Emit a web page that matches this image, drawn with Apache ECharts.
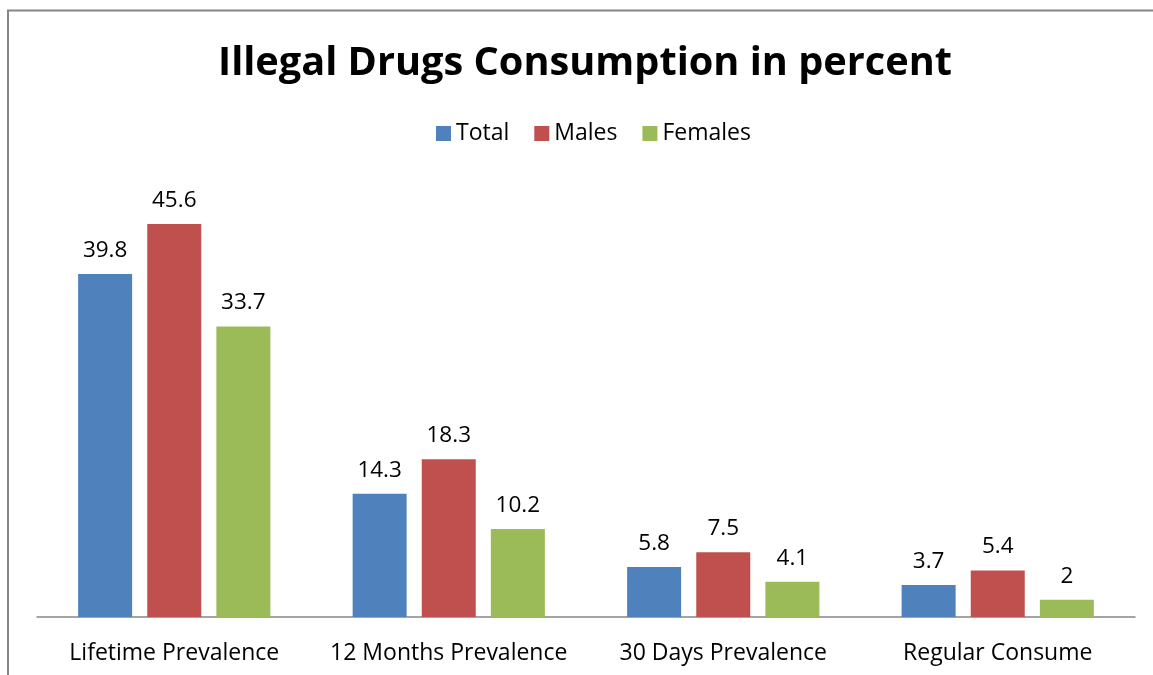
<!DOCTYPE html>
<html><head><meta charset="utf-8">
<script src="https://cdn.jsdelivr.net/npm/echarts@6/dist/echarts.min.js"></script>
<style>html,body{margin:0;padding:0;background:#fff}#c{width:1153px;height:675px}</style>
</head><body><div id="c"></div>
<script>
const categories = ['Lifetime Prevalence', '12 Months Prevalence', '30 Days Prevalence', 'Regular Consume'];
const total = [39.8, 14.3, 5.8, 3.7];
const males = [45.6, 18.3, 7.5, 5.4];
const females = [33.7, 10.2, 4.1, 2];
const seriesNames = ['Total', 'Males', 'Females'];
const colors = ['#4F81BD', '#C0504D', '#9BBB59'];

const font = '"Open Sans", "Liberation Sans", sans-serif';
const chart = echarts.init(document.getElementById('c'));
const mk = (name, data, color) => ({
  name, type: 'bar', data, barWidth: 54, barGap: '28%',
  itemStyle: { color },
  label: { show: true, position: 'top', distance: 12, color: '#000', fontSize: 22.5, fontFamily: font },
  animation: false
});
chart.setOption({
  animation: false,
  color: colors,
  title: {
    text: 'Illegal Drugs Consumption in percent', left: 213, top: 39,
    textStyle: { fontSize: 39.7, fontWeight: 'bold', fontFamily: font, color: '#000' }
  },
  legend: {
    top: 117, left: 431, itemWidth: 15, itemHeight: 15, itemGap: 25,
    icon: 'rect', textStyle: { fontSize: 23, fontFamily: font, color: '#000' },
    data: seriesNames
  },
  grid: { left: 37, right: 18, top: 186.1, bottom: 58, containLabel: false },
  xAxis: {
    type: 'category', data: categories,
    axisLine: { lineStyle: { color: '#868686', width: 1.5 } },
    axisTick: { show: false },
    axisLabel: { interval: 0, fontSize: 23, fontFamily: font, color: '#000', margin: 25 }
  },
  yAxis: { type: 'value', min: 0, max: 50, show: false, splitLine: { show: false } },
  graphic: [{
    type: 'polyline', shape: { points: [[8, 680], [8, 10.5], [1160, 10.5]] },
    style: { stroke: '#868686', lineWidth: 2, fill: null }, silent: true
  }],
  series: [mk(seriesNames[0], total, colors[0]), mk(seriesNames[1], males, colors[1]), mk(seriesNames[2], females, colors[2])]
});
</script></body></html>
